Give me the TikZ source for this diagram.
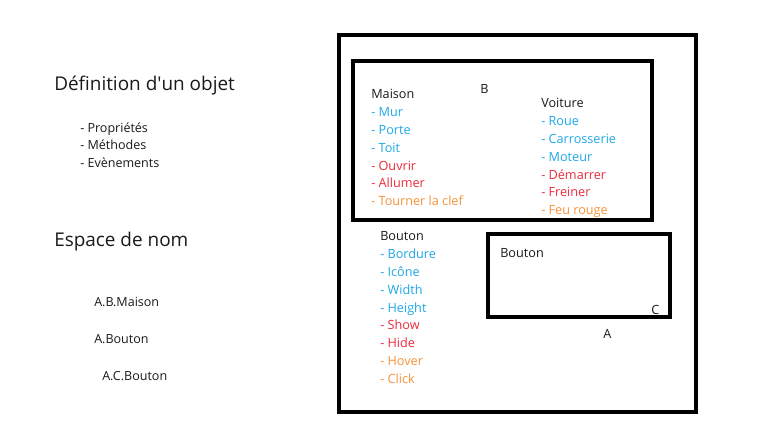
\documentclass[tikz,border=0pt]{standalone}
\usepackage{fontspec}
\setmainfont{Open Sans}
% same face without the TeX quote mapping, for a straight apostrophe
\newfontfamily\rawfont{Open Sans}
\definecolor{propblue}{HTML}{1FA8E6}
\definecolor{methred}{HTML}{EC2A3C}
\definecolor{evtorange}{HTML}{F7923A}
\definecolor{ink}{HTML}{1A1A1A}
\tikzset{
  txt/.style={anchor=mid west, inner sep=0pt, yshift=-1.3pt, text=ink, font=\fontsize{9.5pt}{11pt}\selectfont},
  small/.style={txt, font=\fontsize{9.4pt}{11pt}\selectfont},
  title/.style={txt, font=\fontsize{14.2pt}{16pt}\selectfont},
  prop/.style={txt, text=propblue},
  meth/.style={txt, text=methred},
  evt/.style={txt, text=evtorange},
  frame/.style={draw=black, line width=2.3pt, fill=none},
}
\begin{document}
\begin{tikzpicture}[x=0.75pt, y=-0.75pt]
\useasboundingbox[fill=white] (0,0) rectangle (768,432);

% left column: definition and namespaces
\node[title] (def) at (54,85) {Définition d{\rawfont'}un objet};
\node[small] (d1) at (80,127) {- Propriétés};
\node[small] (d2) at (80,144) {- Méthodes};
\node[small] (d3) at (80,162) {- Evènements};

\node[title] (ns) at (54,241) {Espace de nom};
\node[small] (n1) at (94,301) {A.B.Maison};
\node[small] (n2) at (94,338) {A.Bouton};
\node[small] (n3) at (102,375) {A.C.Bouton};

% namespace frames
\draw[frame] (339,35) rectangle (696,412);
\draw[frame] (353,61) rectangle (652,220);
\draw[frame] (488,234) rectangle (670,317);

\node[txt] (lA) at (603,333) {A};
\node[txt] (lB) at (480,88) {B};
\node[txt] (lC) at (651,309) {C};

% class Maison
\node[txt] (mais) at (371,93) {Maison};
\node[prop] (m1) at (371,111) {- Mur};
\node[prop] (m2) at (371,129) {- Porte};
\node[prop] (m3) at (371,147) {- Toit};
\node[meth] (m4) at (371,165) {- Ouvrir};
\node[meth] (m5) at (371,182) {- Allumer};
\node[evt]  (m6) at (371,200) {- Tourner la clef};

% class Voiture
\node[txt] (voit) at (541,102) {Voiture};
\node[prop] (v1) at (541,120) {- Roue};
\node[prop] (v2) at (541,138) {- Carrosserie};
\node[prop] (v3) at (541,156) {- Moteur};
\node[meth] (v4) at (541,174) {- Démarrer};
\node[meth] (v5) at (541,191) {- Freiner};
\node[evt]  (v6) at (541,209) {- Feu rouge};

% class Bouton (namespace A)
\node[txt] (bout) at (380,235) {Bouton};
\node[prop] (b1) at (380,253) {- Bordure};
\node[prop] (b2) at (380,271) {- Icône};
\node[prop] (b3) at (380,289) {- Width};
\node[prop] (b4) at (380,307) {- Height};
\node[meth] (b5) at (380,324) {- Show};
\node[meth] (b6) at (380,342) {- Hide};
\node[evt]  (b7) at (380,360) {- Hover};
\node[evt]  (b8) at (380,378) {- Click};

% class Bouton (namespace A.C)
\node[txt] (boutC) at (500,252) {Bouton};
\end{tikzpicture}
\end{document}
